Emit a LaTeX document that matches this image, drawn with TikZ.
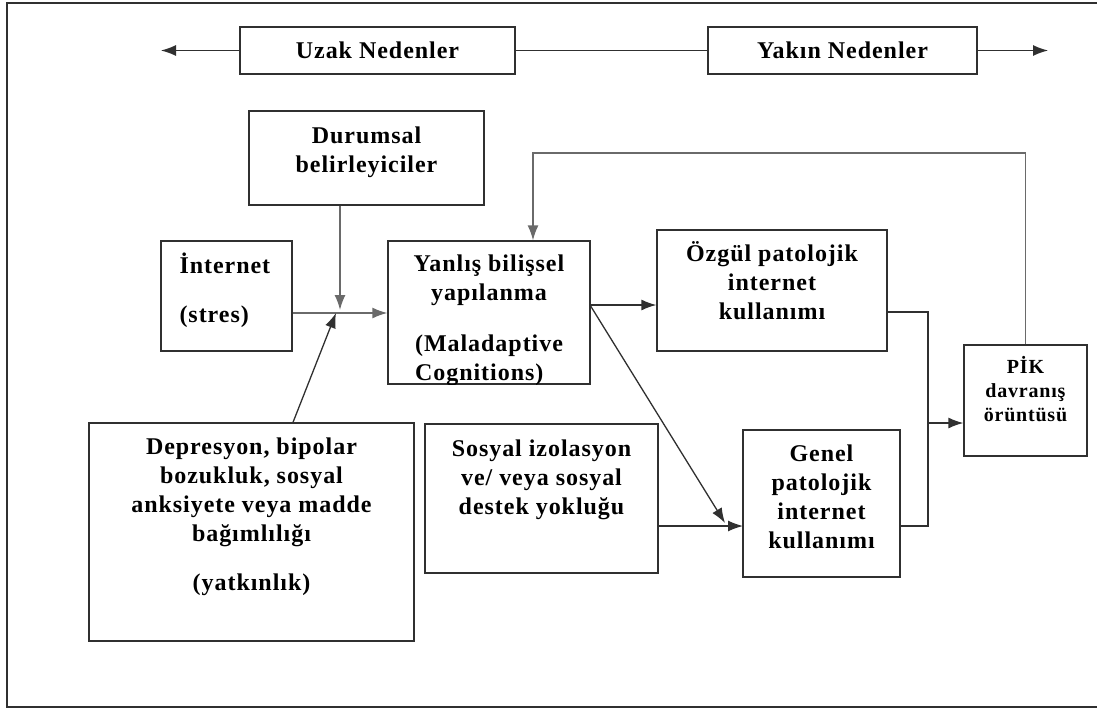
\documentclass[tikz,border=0pt]{standalone}
\usepackage{fontspec}
\setmainfont{Liberation Serif}[LetterSpace=4]
\usetikzlibrary{arrows.meta}
\definecolor{koyu}{HTML}{303030}
\definecolor{gri}{HTML}{6A6A6A}
\begin{document}
\begin{tikzpicture}[x=1pt,y=-1pt,
  >={Latex[length=15pt,width=11pt]},
  kutu/.style={draw=koyu,line width=1.3pt,inner sep=0pt,font=\fontsize{24}{29}\selectfont\bfseries},
  yazi/.style={align=center,inner sep=0pt,font=\fontsize{24}{29}\selectfont\bfseries},
  hat/.style={draw=koyu,line width=1.3pt},
  grihat/.style={draw=gri,line width=1.5pt}]
\useasboundingbox (0,0) rectangle (1097,709);
% Cerceve
\draw[hat](1097,3) -- (7,3) -- (7,707) -- (1097,707);

% Uzak / Yakin nedenler
\node[kutu,minimum width=275,minimum height=47]at(377.5,50.5)(uzak){Uzak Nedenler};
\node[kutu,minimum width=269,minimum height=47]at(842.5,50.5)(yakin){Yakın Nedenler};
\coordinate (sol) at (161,50.5);
\coordinate (sag) at (1048,50.5);

% Kutular
\node[kutu,minimum width=235,minimum height=94]at(366.5,158)(durumsal){};
\node[yazi,anchor=north]at([yshift=-16pt]durumsal.north)(durumsal_yazi){Durumsal\\belirleyiciler};
\node[kutu,minimum width=131,minimum height=110]at(226.5,296)(internet){};
\node[yazi,align=left,anchor=north west]at([xshift=19pt,yshift=-12pt]internet.north west)(internet_yazi){İnternet\\[20pt](stres)};
\node[kutu,minimum width=202,minimum height=143]at(489,312.5)(yanlis){};
\begin{scope}
\clip (yanlis.north west) rectangle (yanlis.south east);
\node[yazi,anchor=north]at([yshift=-14pt]yanlis.north)(yanlis_yazi){Yanlış bilişsel\\yapılanma\\[22pt]\begin{tabular}[t]{@{}l@{}}(Maladaptive\\Cognitions)\end{tabular}};
\end{scope}
\node[kutu,minimum width=230,minimum height=121]at(772,290.5)(ozgul){};
\node[yazi,anchor=north]at([yshift=-12pt]ozgul.north)(ozgul_yazi){Özgül patolojik\\internet\\kullanımı};
\node[kutu,minimum width=123,minimum height=111]at(1025.5,400.5)(pik){};
\node[yazi,font=\fontsize{20}{24}\selectfont\bfseries,anchor=north]at([yshift=-12pt]pik.north)(pik_yazi){PİK\\davranış\\örüntüsü};
\node[kutu,minimum width=325,minimum height=218]at(251.5,532)(depr){};
\node[yazi,anchor=north]at([yshift=-15pt]depr.north)(depr_yazi){Depresyon, bipolar\\bozukluk, sosyal\\anksiyete veya madde\\bağımlılığı\\[20pt](yatkınlık)};
\node[kutu,minimum width=233,minimum height=149]at(541.5,498.5)(sosyal){};
\node[yazi,anchor=north]at([yshift=-16pt]sosyal.north)(sosyal_yazi){Sosyal izolasyon\\ve/ veya sosyal\\destek yokluğu};
\node[kutu,minimum width=157,minimum height=147]at(821.5,503.5)(genel){};
\node[yazi,anchor=north]at([yshift=-15pt]genel.north)(genel_yazi){Genel\\patolojik\\internet\\kullanımı};

% Baglanti noktalari
\coordinate (kavsak) at (340,313);
\coordinate (geri) at (533,153);
\coordinate (cikis) at (590,305);
\coordinate (girisG) at (743,526);
\coordinate (ucG) at (725,523);
\coordinate (birles) at (928,423);

% Oklar
\draw[hat,->](uzak.west) to (sol);
\draw[hat](uzak.east) to (yakin.west);
\draw[hat,->](yakin.east) to (sag);
\draw[grihat,->](durumsal.south -| kavsak) to ([yshift=3pt]kavsak);
\draw[grihat,->](internet.east |- kavsak) to (yanlis.west |- kavsak);
\draw[hat,->]([xshift=41.5pt]depr.north) to ([xshift=-4pt]kavsak);
\draw[grihat,->](pik.north) |- (geri) to (yanlis.north -| geri);
\draw[hat,->](cikis) to (ozgul.west |- cikis);
\draw[hat,->](cikis) to (ucG);
\draw[hat,->](sosyal.east |- girisG) to (girisG);
\draw[hat]([yshift=-21.5pt]ozgul.east) -| (birles);
\draw[hat](genel.east |- girisG) -| (birles);
\draw[hat,->](birles) to (pik.west |- birles);
\end{tikzpicture}
\end{document}
